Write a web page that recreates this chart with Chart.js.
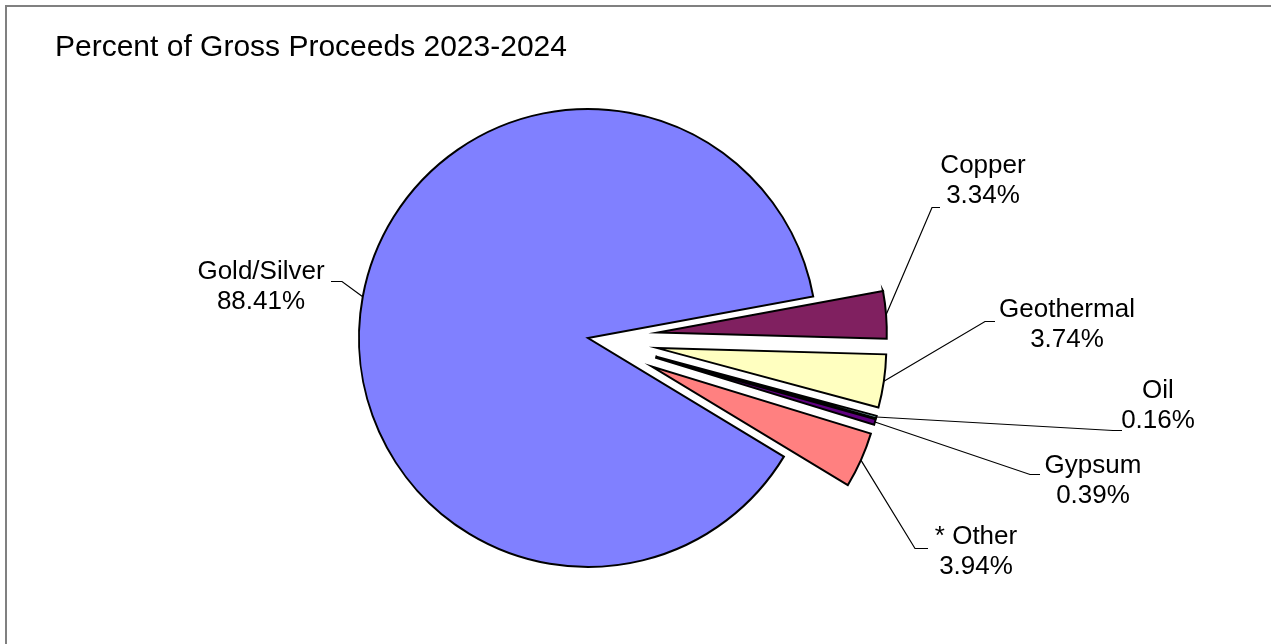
<!DOCTYPE html>
<html>
<head>
<meta charset="utf-8">
<script src="https://cdn.jsdelivr.net/npm/chart.js@4.4.1/dist/chart.umd.min.js"></script>
<style>
    body { margin: 0; background: #fff; }
    canvas { display: block; }
</style>
</head>
<body>
<canvas id="proceeds" width="1271" height="644"></canvas>
<script>
const chartTitle = "Percent of Gross Proceeds 2023-2024";
const categories = ["Gold/Silver", "Copper", "Geothermal", "Oil", "Gypsum", "* Other"];
const percents = [88.41, 3.34, 3.74, 0.16, 0.39, 3.94];
const colors = ["#8080FF", "#802060", "#FFFFC0", "#A0E0E0", "#600080", "#FF8080"];

// how far each slice is pulled out of the pie, px
const explode = [0, 70, 70, 70, 70, 70];
// label text centre (first line) and the elbow of its leader line
const labelAt = [[261, 272], [983, 166], [1067, 310], [1158, 391], [1093, 466], [976, 537]];
const elbowAt = [[342, 281.5], [932, 207.5], [985, 321.5], [1113, 430.5], [1030, 474.5], [915, 548.5]];
const elbowEnd = [331, 940, 995, 1122, 1040, 928];

const labelFont = "26px 'Liberation Sans', Arial, sans-serif";

const explodePlugin = {
    id: "explode",
    afterDatasetUpdate(chart, args) {
        args.meta.data.forEach((arc, i) => {
            const mid = (arc.startAngle + arc.endAngle) / 2;
            arc.x += Math.cos(mid) * explode[i];
            arc.y += Math.sin(mid) * explode[i];
        });
    }
};

const framePlugin = {
    id: "frame",
    beforeDraw(chart) {
        const ctx = chart.ctx;
        ctx.save();
        ctx.strokeStyle = "#808080";
        ctx.lineWidth = 2;
        ctx.beginPath();
        ctx.moveTo(6, chart.height);
        ctx.lineTo(6, 6);
        ctx.lineTo(chart.width, 6);
        ctx.stroke();
        ctx.fillStyle = "#000";
        ctx.font = "30px 'Liberation Sans', Arial, sans-serif";
        ctx.textBaseline = "alphabetic";
        ctx.fillText(chartTitle, 55, 56);
        ctx.restore();
    }
};

const labelPlugin = {
    id: "sliceLabels",
    afterDatasetsDraw(chart) {
        const ctx = chart.ctx;
        const arcs = chart.getDatasetMeta(0).data;
        ctx.save();
        ctx.font = labelFont;
        ctx.fillStyle = "#000";
        ctx.textAlign = "center";
        ctx.textBaseline = "middle";
        arcs.forEach((arc, i) => {
            const mid = (arc.startAngle + arc.endAngle) / 2;
            const sx = arc.x + Math.cos(mid) * arc.outerRadius;
            const sy = arc.y + Math.sin(mid) * arc.outerRadius;
            ctx.strokeStyle = "#000";
            ctx.lineWidth = 1.2;
            ctx.beginPath();
            ctx.moveTo(sx, sy);
            ctx.lineTo(elbowAt[i][0], elbowAt[i][1]);
            ctx.lineTo(elbowEnd[i], elbowAt[i][1]);
            ctx.stroke();
            ctx.fillText(categories[i], labelAt[i][0], labelAt[i][1]);
            ctx.fillText(percents[i].toFixed(2) + "%", labelAt[i][0], labelAt[i][1] + 30);
        });
        ctx.restore();
    }
};

new Chart(document.getElementById("proceeds"), {
    type: "pie",
    data: {
        labels: categories,
        datasets: [{
            data: percents,
            backgroundColor: colors,
            borderColor: "#000",
            borderWidth: 2,
            borderJoinStyle: "miter",
            radius: 229
        }]
    },
    options: {
        responsive: false,
        animation: false,
        events: [],
        rotation: 121.2,
        layout: { padding: { left: 0, right: 95, top: 32, bottom: 0 } },
        plugins: {
            legend: { display: false },
            tooltip: { enabled: false },
            title: { display: false }
        }
    },
    plugins: [explodePlugin, framePlugin, labelPlugin]
});
</script>
</body>
</html>
